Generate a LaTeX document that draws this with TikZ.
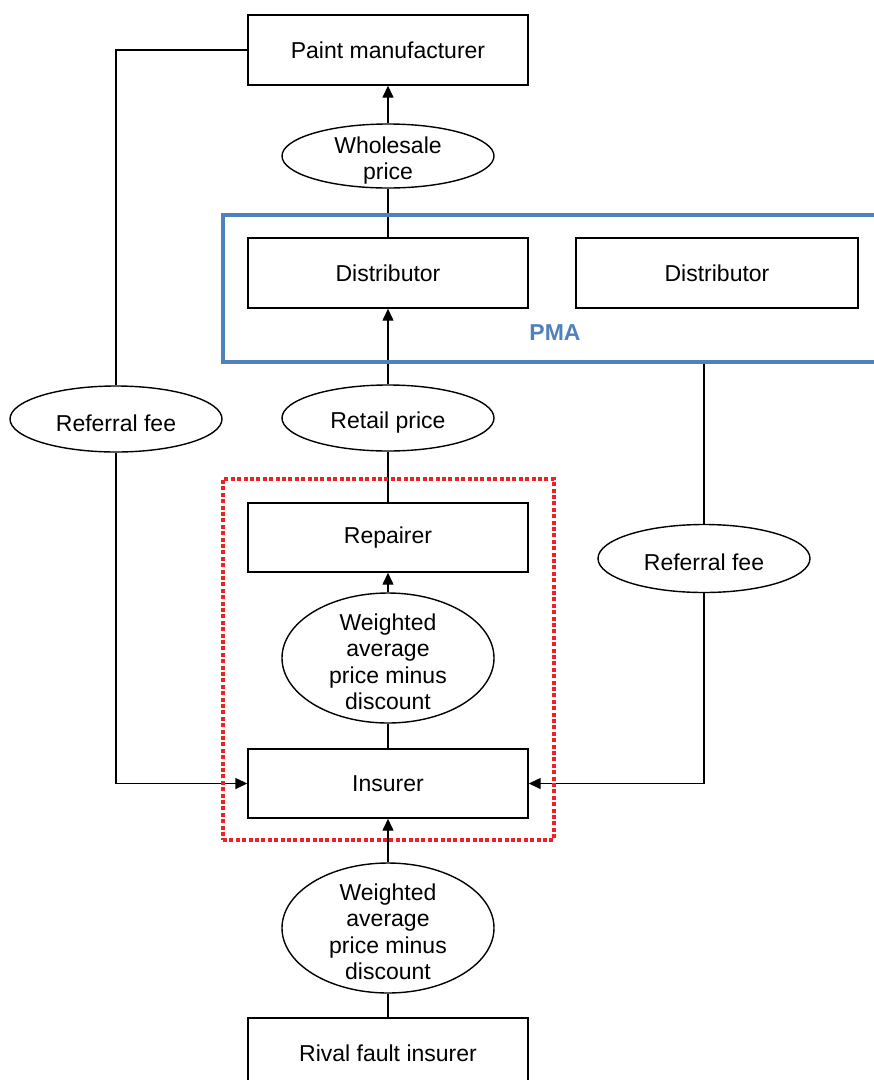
\documentclass[tikz,border=0pt]{standalone}
\usepackage{fontspec}
\setmainfont{Liberation Sans}
\usetikzlibrary{arrows.meta,shapes.geometric,backgrounds}
\definecolor{pmablue}{RGB}{79,129,189}
\definecolor{dotred}{RGB}{240,32,36}
\newcommand{\estrut}{\rule[-2pt]{0pt}{22pt}}
\begin{document}
\begin{tikzpicture}[x=1pt,y=-1pt,
  every node/.style={font=\fontsize{23}{26.5}\selectfont},
  box/.style={draw,line width=1.4pt,minimum width=280pt,minimum height=70pt,inner sep=0pt},
  ell/.style={draw,ellipse,line width=1.4pt,minimum width=212pt,inner sep=0pt},
  elltext/.style={label={[align=center,inner sep=0pt,yshift=-3pt]center:\estrut#1\estrut}},
  conn/.style={line width=1.4pt},
  arr/.style={line width=1.4pt,-{Triangle[length=12pt,width=11pt]}},
  blueframe/.style={draw=pmablue,line width=4.5pt,minimum width=657pt,minimum height=147pt,inner sep=0pt},
  redframe/.style={draw=dotred,line width=4.2pt,dash pattern=on 4pt off 2.4pt,minimum width=331pt,minimum height=361pt,inner sep=0pt}
]
\useasboundingbox (0,0) rectangle (874,1080);
\clip (0,0) rectangle (874,1080);

% frames
\node[blueframe] (pma) at (551.5,288.5) {};
\node[redframe] (red) at (388.5,659.5) {};
\node[text=pmablue,font=\fontsize{23}{26.5}\selectfont\bfseries] (pmalabel) at (555,333) {PMA};

% boxes
\node[box] (pm) at (388,50) {Paint manufacturer};
\node[box] (d1) at (388,273) {Distributor};
\node[box,minimum width=282pt] (d2) at (717,273) {Distributor};
\node[box,minimum height=69pt] (rep) at (388,537.5) {Repairer};
\node[box,minimum height=69pt] (ins) at (388,783.5) {Insurer};
\node[box] (riv) at (388,1053) {Rival fault insurer};

% ellipses
\node[ell,minimum height=64pt,elltext={Wholesale\\price}] (ws) at (388,156) {};
\node[ell,minimum height=66pt,elltext={Retail price}] (rp) at (388,418) {};
\node[ell,minimum height=130pt,elltext={Weighted\\average\\price minus\\discount}] (wa1) at (388,658) {};
\node[ell,minimum height=130pt,elltext={Weighted\\average\\price minus\\discount}] (wa2) at (388,928) {};
\node[ell,minimum height=66pt,elltext={Referral fee}] (ref1) at (116,419) {};
\node[ell,minimum height=68pt,elltext={Referral fee}] (ref2) at (704,558.5) {};

% connectors
\begin{pgfonlayer}{background}
\draw[arr] (ws) -- (pm);
\draw[conn] (ws) -- (d1);
\draw[arr] (rp) -- (d1);
\draw[conn] (rp) -- (rep);
\draw[arr] (wa1) -- (rep);
\draw[conn] (wa1) -- (ins);
\draw[arr] (wa2) -- (ins);
\draw[conn] (wa2) -- (riv);
\draw[conn] (pm.west) -| (ref1.north);
\draw[arr] (ref1.south) |- (ins.west);
\draw[conn] (pma.south -| ref2.north) -- (ref2.north);
\draw[arr] (ref2.south) |- (ins.east);
\end{pgfonlayer}
\end{tikzpicture}
\end{document}
